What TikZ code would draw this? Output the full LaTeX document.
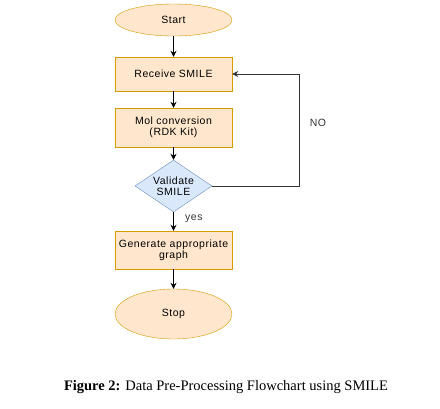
\documentclass[tikz,border=0pt]{standalone}
\usepackage{fontspec}
\setmainfont{Liberation Serif}
\newfontfamily\chartfont{Liberation Sans}[LetterSpace=5]
\usepackage{xcolor}
\definecolor{peach}{HTML}{FFE6CC}
\definecolor{ochre}{HTML}{D79B00}
\definecolor{skyfill}{HTML}{DAE8FC}
\definecolor{skyline}{HTML}{6C8EBF}
\definecolor{loopgray}{HTML}{333333}
\usetikzlibrary{arrows.meta,positioning,shapes.geometric}

\begin{document}
\begin{tikzpicture}[x=1pt,y=-1pt,
  term/.style={ellipse,draw=ochre,fill=peach,minimum width=117pt,inner sep=0pt,
               font=\chartfont\fontsize{10.5}{11}\selectfont},
  proc/.style={rectangle,draw=ochre,fill=peach,minimum width=117pt,inner sep=0pt,
               align=center,font=\chartfont\fontsize{10.5}{11}\selectfont},
  dec/.style={diamond,draw=skyline,fill=skyfill,aspect=1.5,inner sep=0pt,
              minimum width=77pt,minimum height=52pt,align=center,
              font=\chartfont\fontsize{10.5}{11}\selectfont},
  lbl/.style={font=\chartfont\fontsize{10.5}{11}\selectfont,color=loopgray},
  flow/.style={-{Stealth[length=6pt,width=6pt]},line width=0.8pt,black},
]
  \useasboundingbox (0,0) rectangle (440,408);
  %% flow nodes
  \node[term,minimum height=32pt] (start) at (173.5,20) {Start};
  \node[proc,minimum height=34pt] (recv) at (173.5,74) {Receive SMILE};
  \node[proc,minimum height=39pt] (mol) at (173.5,127.5) {Mol conversion\\(RDK Kit)};
  \node[dec] (valid) at (173.5,186) {Validate\\SMILE};
  \node[proc,minimum height=38pt] (graph) at (173.5,250) {Generate appropriate\\graph};
  \node[term,minimum height=50pt] (stop) at (173.5,314) {Stop};
  %% connectors
  \draw[flow] (start) -- (recv);
  \draw[flow] (recv) -- (mol);
  \draw[flow] (mol) -- (valid);
  \draw[flow] (valid) -- (graph) node[lbl,pos=0.35,right=8pt] {yes};
  \draw[flow] (graph) -- (stop);
  \coordinate (bend) at (299,186);
  \draw[flow,draw=loopgray] (valid.east) -- (bend) -- (bend |- recv.east) -- (recv.east);
  \node[lbl] (no) at (318,123) {NO};
  %% caption
  \node[font=\fontsize{14.5}{17}\selectfont] (cap) at (226,387)
    {\textbf{Figure 2:} Data Pre-Processing Flowchart using SMILE};
\end{tikzpicture}
\end{document}
